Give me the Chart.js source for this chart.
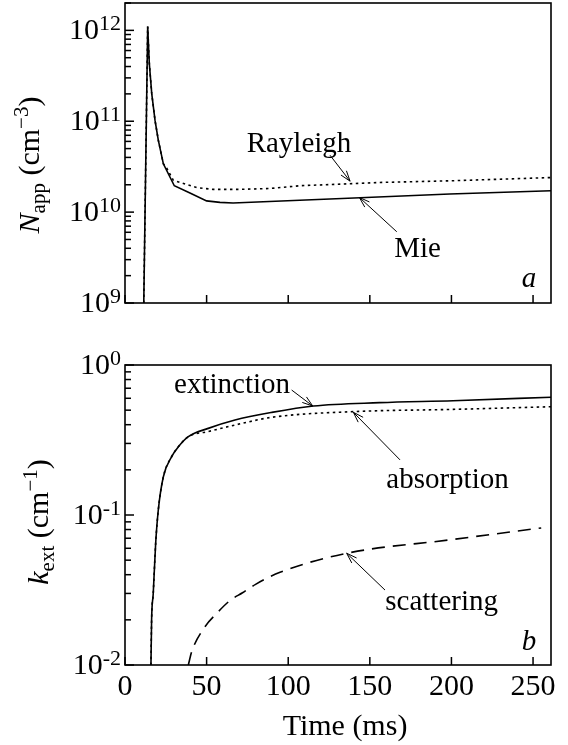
<!DOCTYPE html>
<html>
<head>
<meta charset="utf-8">
<title>N_app and k_ext versus time</title>
<script src="https://cdn.jsdelivr.net/npm/chart.js@4.4.1/dist/chart.umd.min.js"></script>
<style>
  body { margin: 0; background: #fff; }
  #wrap { position: relative; width: 568px; height: 745px; }
  canvas { position: absolute; left: 0; }
  #top { top: 0; }
  #bottom { top: 320px; }
</style>
</head>
<body>
<div id="wrap">
  <canvas id="top" width="568" height="320"></canvas>
  <canvas id="bottom" width="568" height="425"></canvas>
</div>
<script>
var FONT = '"Liberation Serif", "DejaVu Serif", serif';

// shared time axis (ms)
var timeMin = 0, timeMax = 261, timeStep = 50;

// panel a: apparent number density, cm^-3
var mieTime = [11.5, 13.9, 14.9, 16.4, 18.4, 20.4, 23.5, 30.2, 39.8, 50, 58.2, 66.2, 107, 144, 199, 261];
var mieN = [1e9, 1.1e12, 4.3e11, 2.0e11, 1.02e11, 6.2e10, 3.4e10, 1.95e10, 1.62e10, 1.33e10, 1.28e10, 1.26e10, 1.35e10, 1.44e10, 1.58e10, 1.72e10];
var rayTime = [11.5, 13.9, 14.9, 16.4, 18.4, 20.4, 23.5, 25.1, 29.6, 43.9, 53.9, 70, 89, 107, 156, 199, 261];
var rayN = [1e9, 1.1e12, 4.3e11, 2.0e11, 1.02e11, 6.2e10, 3.4e10, 3.16e10, 2.24e10, 1.86e10, 1.78e10, 1.78e10, 1.82e10, 1.95e10, 2.12e10, 2.21e10, 2.40e10];
var nMin = 1e9, nMax = 2e12;

// panel b: coefficients, cm^-1
var extTime = [15.9, 16.3, 17.3, 18.8, 20.4, 23.5, 28.6, 32.7, 38.8, 51, 67.4, 89.9, 115.4, 156, 201, 261];
var extK = [0.01, 0.02, 0.030, 0.065, 0.108, 0.18, 0.245, 0.285, 0.333, 0.378, 0.43, 0.483, 0.533, 0.561, 0.578, 0.61];
var absTime = [15.9, 16.3, 17.3, 18.8, 20.4, 23.5, 28.6, 32.7, 38.8, 51, 67.4, 89.9, 140, 201, 261];
var absK = [0.01, 0.02, 0.030, 0.065, 0.108, 0.18, 0.245, 0.285, 0.333, 0.36, 0.398, 0.448, 0.489, 0.506, 0.527];
var scaTime = [38.8, 40.9, 49, 56.2, 64.3, 72, 80, 95, 136, 200, 255];
var scaK = [0.0100, 0.0123, 0.018, 0.0221, 0.0269, 0.0303, 0.0345, 0.0415, 0.0556, 0.0685, 0.082];
var kMin = 0.01, kMax = 1;

// mantissas that get a tick mark inside each decade
var minorSteps = [1, 2, 3, 4, 5, 6, 7, 8, 9];

function pts(xs, ys) {
  return xs.map(function(x, i) { return {x: x, y: ys[i]}; });
}

// draws a run of text pieces, each {t, size, dy, italic}, starting at x
function drawRun(ctx, parts, x, y) {
  parts.forEach(function(p) {
    ctx.font = (p.italic ? 'italic ' : '') + p.size + 'px ' + FONT;
    ctx.fillText(p.t, x, y + (p.dy || 0));
    x += ctx.measureText(p.t).width;
  });
  return x;
}
function runWidth(ctx, parts) {
  var w = 0;
  parts.forEach(function(p) {
    ctx.font = (p.italic ? 'italic ' : '') + p.size + 'px ' + FONT;
    w += ctx.measureText(p.t).width;
  });
  return w;
}

function powParts(e) {
  return [{t: '10', size: 30}, {t: String(e), size: 22, dy: -9}];
}

function arrow(ctx, x1, y1, x2, y2) {
  var ang = Math.atan2(y2 - y1, x2 - x1), len = 11, spread = 0.32;
  ctx.beginPath();
  ctx.moveTo(x1, y1); ctx.lineTo(x2, y2);
  ctx.moveTo(x2, y2); ctx.lineTo(x2 - len * Math.cos(ang - spread), y2 - len * Math.sin(ang - spread));
  ctx.moveTo(x2, y2); ctx.lineTo(x2 - len * Math.cos(ang + spread), y2 - len * Math.sin(ang + spread));
  ctx.stroke();
}

var decor = {
  id: 'decor',
  afterDraw: function(chart, args, o) {
    var ctx = chart.ctx, a = chart.chartArea;
    var xs = chart.scales.x, ys = chart.scales.y;
    var lo = chart.options.scales.y.min, hi = chart.options.scales.y.max;
    ctx.save();
    ctx.setLineDash([]);
    ctx.strokeStyle = '#000';
    ctx.fillStyle = '#000';
    ctx.textBaseline = 'alphabetic';

    // inward log ticks on the left side
    var e0 = Math.round(Math.log10(lo)), e1 = Math.floor(Math.log10(hi) + 1e-9);
    var yTicks = [];
    for (var e = e0; e <= e1; e++) {
      minorSteps.forEach(function(m) {
        var v = m * Math.pow(10, e);
        if (v <= hi * 1.0001) yTicks.push({v: v, e: e, major: m === 1});
      });
    }
    yTicks.forEach(function(t) {
      var py = ys.getPixelForValue(t.v);
      ctx.fillRect(a.left, py - 0.75, t.major ? 9 : 6, 1.5);
    });

    ctx.lineWidth = 1.6;
    ctx.strokeRect(a.left, a.top, a.right - a.left, a.bottom - a.top);

    // inward x ticks
    ctx.textAlign = 'center';
    xs.ticks.forEach(function(t) {
      var px = xs.getPixelForValue(t.value);
      ctx.fillRect(px - 0.75, a.bottom - 8, 1.5, 8);
      if (o.xLabels) {
        ctx.font = '30px ' + FONT;
        ctx.fillText(String(t.value), px, a.bottom + 30);
      }
    });

    // decade labels
    ctx.textAlign = 'left';
    yTicks.forEach(function(t) {
      if (!t.major) return;
      var parts = powParts(t.e);
      drawRun(ctx, parts, a.left - 4 - runWidth(ctx, parts), ys.getPixelForValue(t.v) + 9);
    });

    // y title, rotated
    var tw = runWidth(ctx, o.yTitle);
    ctx.save();
    ctx.translate(o.yTitleX, (a.top + a.bottom) / 2 + o.yTitleShift);
    ctx.rotate(-Math.PI / 2);
    drawRun(ctx, o.yTitle, -tw / 2, 0);
    ctx.restore();

    if (o.xTitle) {
      ctx.font = '30px ' + FONT;
      ctx.textAlign = 'center';
      ctx.fillText(o.xTitle, (a.left + a.right) / 2 + 7, a.bottom + 70);
    }

    // curve labels and arrows, placed in data units
    ctx.textAlign = 'center';
    o.notes.forEach(function(n) {
      ctx.font = (n.italic ? 'italic ' : '') + '29px ' + FONT;
      ctx.fillText(n.text, xs.getPixelForValue(n.at[0]), ys.getPixelForValue(n.at[1]));
    });
    ctx.lineWidth = 1;
    o.arrows.forEach(function(r) {
      arrow(ctx, xs.getPixelForValue(r[0][0]), ys.getPixelForValue(r[0][1]),
                 xs.getPixelForValue(r[1][0]), ys.getPixelForValue(r[1][1]));
    });
    ctx.restore();
  }
};

function xScale() {
  return {type: 'linear', display: false, min: timeMin, max: timeMax,
          ticks: {stepSize: timeStep, includeBounds: false}};
}
function yScale(lo, hi) {
  return {type: 'logarithmic', display: false, min: lo, max: hi};
}
function line(data, dash, smooth) {
  return {data: data, borderColor: '#000', borderWidth: 1.6, borderDash: dash,
          pointRadius: 0, fill: false, tension: 0,
          cubicInterpolationMode: smooth ? 'monotone' : 'default'};
}

new Chart(document.getElementById('top'), {
  type: 'line',
  data: {datasets: [
    line(pts(rayTime, rayN), [2.5, 3.5], false),
    line(pts(mieTime, mieN), [], false)
  ]},
  options: {
    responsive: false, animation: false, events: [],
    layout: {padding: {left: 125, top: 3, right: 17, bottom: 17}},
    scales: {x: xScale(), y: yScale(nMin, nMax)},
    plugins: {
      legend: {display: false}, tooltip: {enabled: false},
      decor: {
        xLabels: false,
        yTitleX: 39, yTitleShift: 12,
        yTitle: [{t: 'N', size: 30, italic: true}, {t: 'app', size: 21, dy: 6},
                 {t: ' (cm', size: 30}, {t: '\u22123', size: 21, dy: -11}, {t: ')', size: 30}],
        notes: [
          {text: 'Rayleigh', at: [106.6, 4.56e10]},
          {text: 'Mie', at: [179.2, 3.2e9]},
          {text: 'a', at: [247.5, 1.5e9], italic: true}
        ],
        arrows: [
          [[125.6, 4.23e10], [137.9, 2.19e10]],
          [[166.5, 6.08e9], [143.6, 1.45e10]]
        ]
      }
    }
  },
  plugins: [decor]
});

new Chart(document.getElementById('bottom'), {
  type: 'line',
  data: {datasets: [
    line(pts(scaTime, scaK), [13, 8], true),
    line(pts(absTime, absK), [2.5, 3.5], true),
    line(pts(extTime, extK), [], true)
  ]},
  options: {
    responsive: false, animation: false, events: [],
    layout: {padding: {left: 125, top: 45, right: 17, bottom: 80}},
    scales: {x: xScale(), y: yScale(kMin, kMax)},
    plugins: {
      legend: {display: false}, tooltip: {enabled: false},
      decor: {
        xLabels: true,
        xTitle: 'Time (ms)',
        yTitleX: 48, yTitleShift: 7,
        yTitle: [{t: 'k', size: 30, italic: true}, {t: 'ext', size: 21, dy: 6},
                 {t: ' (cm', size: 30}, {t: '\u22121', size: 21, dy: -11}, {t: ')', size: 30}],
        notes: [
          {text: 'extinction', at: [65.6, 0.651]},
          {text: 'absorption', at: [197.6, 0.151]},
          {text: 'scattering', at: [194, 0.0233]},
          {text: 'b', at: [247.5, 0.0126], italic: true}
        ],
        arrows: [
          [[102.1, 0.681], [115, 0.533]],
          [[168.5, 0.233], [139.9, 0.484]],
          [[159.3, 0.0316], [135.8, 0.0556]]
        ]
      }
    }
  },
  plugins: [decor]
});
</script>
</body>
</html>
